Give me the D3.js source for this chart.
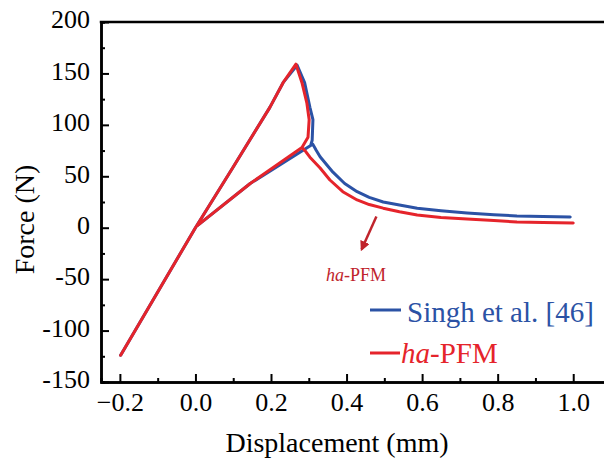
<!DOCTYPE html>
<html>
<head>
<meta charset="utf-8">
<script src="https://cdn.jsdelivr.net/npm/d3@7"></script>
<style>
  html, body { margin: 0; padding: 0; background: #fff; }
  svg text { font-family: "Liberation Serif", "Times New Roman"; }
</style>
</head>
<body>
<div id="chart"></div>
<script>
// ━━━━━━━━━━━━━━━━━━━━━━━━━━━━━━━━━━━━━━━━━━━━━━━━━━━━━━━━━━━━━━━━━━━━━━━━━━━━━━
// Data ////////////////////////////////////////////////////
// ━━━━━━━━━━━━━━━━━━━━━━━━━━━━━━━━━━━━━━━━━━━━━━━━━━━━━━━━━━━━━━━━━━━━━━━━━━━━━━

// loading history: compression -> origin -> peak -> drop -> unload -> reload -> softening tail
const singhDisp  = [-0.198, 0, 0.1, 0.197, 0.232, 0.269, 0.289, 0.303, 0.311, 0.309, 0.305, 0.145, 0.005, 0.145, 0.305, 0.311, 0.32, 0.33, 0.348, 0.364, 0.395, 0.428, 0.46, 0.497, 0.54, 0.587, 0.65, 0.719, 0.79, 0.851, 0.92, 0.992];
const singhForce = [-124, 0, 59, 117, 141, 158, 141, 117, 105, 85, 80, 43, 2, 43, 80, 81, 75, 69, 61, 54, 43, 35, 29.5, 25, 22, 19, 16.5, 14.3, 12.6, 11.4, 10.8, 10.4];

const pfmDisp    = [-0.198, 0, 0.1, 0.197, 0.232, 0.266, 0.282, 0.295, 0.301, 0.298, 0.282, 0.145, 0.005, 0.145, 0.282, 0.292, 0.303, 0.33, 0.356, 0.39, 0.428, 0.46, 0.497, 0.54, 0.587, 0.65, 0.719, 0.79, 0.851, 0.92, 1.0];
const pfmForce   = [-124, 0, 59, 117, 141, 159, 141, 121, 105, 88, 78, 43, 2, 43, 78, 74, 68.6, 58, 46.4, 35, 27, 22.5, 19, 15.5, 12.3, 10, 8.5, 7, 5.5, 5, 4.6];

const xTicks      = [-0.2, 0.0, 0.2, 0.4, 0.6, 0.8, 1.0];
const xMinorTicks = [-0.1, 0.1, 0.3, 0.5, 0.7, 0.9];
const yTicks      = [-150, -100, -50, 0, 50, 100, 150, 200];
const yMinorTicks = [-125, -75, -25, 25, 75, 125, 175];

const seriesNames  = ['Singh et al. [46]', 'PFM'];
const arrowFrom    = [0.479, 11];   // annotation arrow, data units
const arrowTo      = [0.44, -21];

// ━━━━━━━━━━━━━━━━━━━━━━━━━━━━━━━━━━━━━━━━━━━━━━━━━━━━━━━━━━━━━━━━━━━━━━━━━━━━━━
// SVG setup /////////////////////////////////////////////////////////////////////
// ━━━━━━━━━━━━━━━━━━━━━━━━━━━━━━━━━━━━━━━━━━━━━━━━━━━━━━━━━━━━━━━━━━━━━━━━━━━━━━

const width = 604;
const height = 464;
const serif = '"Liberation Serif", "Times New Roman"';
const blue = '#2b52a5';
const red = '#e5242b';
const darkRed = '#c0242c';

const svg = d3.select('#chart').append('svg')
  .attr('width', width)
  .attr('height', height)
  .attr('viewBox', [0, 0, width, height])
  .style('display', 'block');

const defs = svg.append('defs');
defs.append('marker')
  .attr('id', 'arrowhead')
  .attr('viewBox', '0 0 10 10')
  .attr('refX', 8).attr('refY', 5)
  .attr('markerWidth', 4).attr('markerHeight', 4)
  .attr('orient', 'auto')
  .append('path')
  .attr('d', 'M0,0 L10,5 L0,10 z')
  .attr('fill', darkRed);

const x = d3.scaleLinear().domain([-0.25, 1.1]).range([101, 611]);
const y = d3.scaleLinear().domain([-150, 200]).range([382, 22]);

// ━━━━━━━━━━━━━━━━━━━━━━━━━━━━━━━━━━━━━━━━━━━━━━━━━━━━━━━━━━━━━━━━━━━━━━━━━━━━━━
// Axes (ticks pointing inward) //////////////////////////////////////////////////
// ━━━━━━━━━━━━━━━━━━━━━━━━━━━━━━━━━━━━━━━━━━━━━━━━━━━━━━━━━━━━━━━━━━━━━━━━━━━━━━

const xMinor = svg.append('g')
  .attr('transform', `translate(0,${y(-150)})`)
  .call(d3.axisBottom(x).tickValues(xMinorTicks).tickSize(-4).tickFormat(''));

const xAxis = svg.append('g')
  .attr('transform', `translate(0,${y(-150)})`)
  .call(d3.axisBottom(x).tickValues(xTicks).tickSize(-8).tickSizeOuter(0).tickPadding(11)
    .tickFormat(d3.format('.1f')));

const yMinor = svg.append('g')
  .attr('transform', `translate(${x(-0.25)},0)`)
  .call(d3.axisLeft(y).tickValues(yMinorTicks).tickSize(-4).tickFormat(''));

const yAxis = svg.append('g')
  .attr('transform', `translate(${x(-0.25)},0)`)
  .call(d3.axisLeft(y).tickValues(yTicks).tickSize(-8).tickSizeOuter(0).tickPadding(11)
    .tickFormat(d => d));

[xMinor, xAxis, yMinor, yAxis].forEach(g => {
  g.selectAll('.domain').attr('stroke', '#000').attr('stroke-width', 2.5);
  g.selectAll('.tick line').attr('stroke', '#000').attr('stroke-width', 2);
  g.selectAll('.tick text')
    .attr('fill', '#000')
    .style('font-family', serif)
    .style('font-size', '26px');
});
xAxis.selectAll('.tick text').attr('dy', '0.71em').attr('y', 11);
yAxis.selectAll('.tick text').attr('dy', '0.22em');

// top frame line
svg.append('line')
  .attr('x1', x(-0.25) - 1.25).attr('x2', x(1.1))
  .attr('y1', y(200)).attr('y2', y(200))
  .attr('stroke', '#000').attr('stroke-width', 2.5);

// axis titles
svg.append('text')
  .attr('x', 337).attr('y', 452)
  .attr('text-anchor', 'middle')
  .style('font-family', serif)
  .style('font-size', '28px')
  .text('Displacement (mm)');

svg.append('text')
  .attr('transform', `translate(34,${y(8)}) rotate(-90)`)
  .attr('text-anchor', 'middle')
  .style('font-family', serif)
  .style('font-size', '28px')
  .text('Force (N)');

// ━━━━━━━━━━━━━━━━━━━━━━━━━━━━━━━━━━━━━━━━━━━━━━━━━━━━━━━━━━━━━━━━━━━━━━━━━━━━━━
// Curves ////////////////////////////////////////////////////////////////////////
// ━━━━━━━━━━━━━━━━━━━━━━━━━━━━━━━━━━━━━━━━━━━━━━━━━━━━━━━━━━━━━━━━━━━━━━━━━━━━━━

const line = d3.line()
  .x(d => x(d[0]))
  .y(d => y(d[1]));

const curves = svg.append('g').attr('id', 'curves')
  .attr('fill', 'none')
  .attr('stroke-width', 3)
  .attr('stroke-linejoin', 'round')
  .attr('stroke-linecap', 'round');

curves.append('path')
  .datum(d3.zip(singhDisp, singhForce))
  .attr('d', line)
  .attr('stroke', blue);

curves.append('path')
  .datum(d3.zip(pfmDisp, pfmForce))
  .attr('d', line)
  .attr('stroke', red);

// annotation arrow + label
svg.append('line')
  .attr('x1', x(arrowFrom[0])).attr('y1', y(arrowFrom[1]))
  .attr('x2', x(arrowTo[0])).attr('y2', y(arrowTo[1]))
  .attr('stroke', darkRed)
  .attr('stroke-width', 2.5)
  .attr('marker-end', 'url(#arrowhead)');

const note = svg.append('text')
  .attr('x', 356).attr('y', 281)
  .attr('text-anchor', 'middle')
  .style('font-family', serif)
  .style('font-size', '18px')
  .attr('fill', darkRed);
note.append('tspan').style('font-style', 'italic').text('ha');
note.append('tspan').text('-PFM');

// ━━━━━━━━━━━━━━━━━━━━━━━━━━━━━━━━━━━━━━━━━━━━━━━━━━━━━━━━━━━━━━━━━━━━━━━━━━━━━━
// Legend ////////////////////////////////////////////////////////////////////////
// ━━━━━━━━━━━━━━━━━━━━━━━━━━━━━━━━━━━━━━━━━━━━━━━━━━━━━━━━━━━━━━━━━━━━━━━━━━━━━━

const legend = svg.append('g').attr('id', 'legend');

legend.append('line')
  .attr('x1', 370).attr('x2', 401).attr('y1', 310).attr('y2', 310)
  .attr('stroke', blue).attr('stroke-width', 3);
legend.append('text')
  .attr('x', 407).attr('y', 322)
  .attr('fill', blue)
  .style('font-family', serif)
  .style('font-size', '29px')
  .text(seriesNames[0]);

legend.append('line')
  .attr('x1', 370).attr('x2', 400).attr('y1', 353).attr('y2', 353)
  .attr('stroke', red).attr('stroke-width', 3);
const pfmLabel = legend.append('text')
  .attr('x', 401).attr('y', 363)
  .attr('fill', red)
  .style('font-family', serif)
  .style('font-size', '29px');
pfmLabel.append('tspan').style('font-style', 'italic').text('ha');
pfmLabel.append('tspan').text('-' + seriesNames[1]);
</script>
</body>
</html>
